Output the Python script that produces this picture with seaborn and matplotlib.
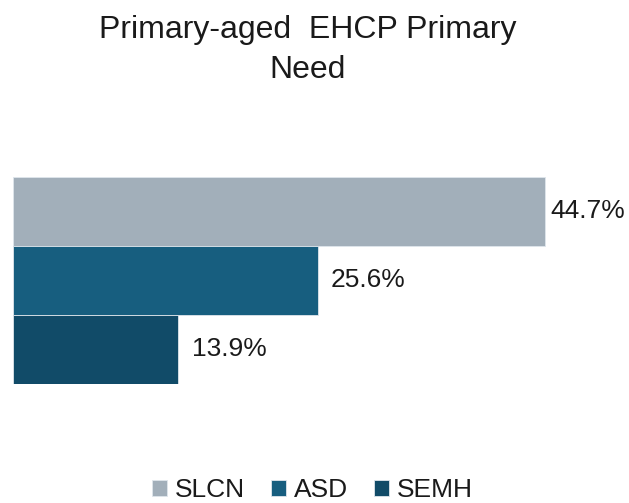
import matplotlib
matplotlib.use("Agg")
import matplotlib.pyplot as plt
import seaborn as sns
import pandas as pd

series = ["SLCN", "ASD", "SEMH"]
values = [44.7, 25.6, 13.9]
colors = ["#A2AFBA", "#175E7F", "#114B68"]
title = "Primary-aged  EHCP Primary\nNeed"
label_pads = [4, 9, 10]

sns.set_theme(style="white")
plt.rcParams["font.family"] = ["Liberation Sans", "DejaVu Sans"]

df = pd.DataFrame({"group": [""] * len(series), "series": series, "value": values})

fig = plt.figure(figsize=(6.29, 5.03), dpi=100)
ax = fig.add_axes([13 / 629, 1 - 384 / 503, 595 / 629, 207 / 503])
sns.barplot(data=df, x="value", y="group", hue="series", hue_order=series,
            palette=colors, saturation=1, orient="h", width=0.8, gap=0, ax=ax,
            edgecolor="#dfe6ec", linewidth=0.6, legend=True)
ax.set_xlim(0, 50)
ax.set_ylim(0.4, -0.4)
ax.set_xlabel("")
ax.set_ylabel("")
ax.set_xticks([])
ax.set_yticks([])
for s in ax.spines.values():
    s.set_visible(False)

for cont, pad in zip(ax.containers, label_pads):
    ax.bar_label(cont, fmt="%.1f%%", padding=pad, fontsize=19, color="#1a1a1a")

handles, labels = ax.get_legend_handles_labels()
if ax.legend_ is not None:
    ax.legend_.remove()
fig.legend(handles, labels, loc="center", bbox_to_anchor=(0.497, 1 - 490 / 503),
           ncol=3, frameon=False, fontsize=19, handlelength=0.55, handleheight=0.55,
           handletextpad=0.3, columnspacing=1.0, labelcolor="#1a1a1a")

fig.text(308 / 629, 1 - 50 / 503, title, ha="center", va="center", fontsize=23,
         color="#1a1a1a", linespacing=1.45)

fig.savefig("out.png", dpi=100)
